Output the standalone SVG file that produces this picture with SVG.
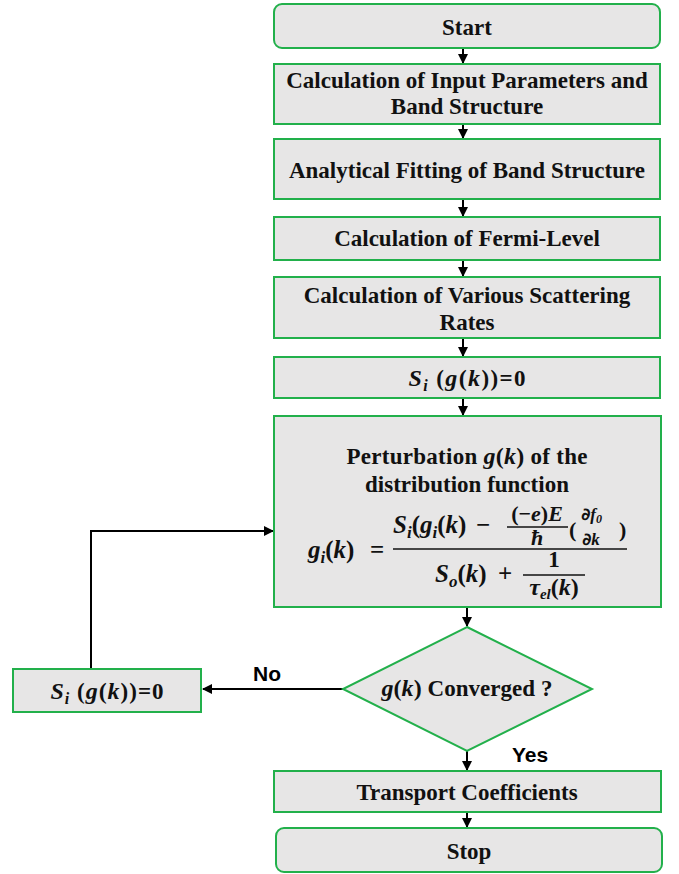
<svg xmlns="http://www.w3.org/2000/svg" width="679" height="874" viewBox="0 0 679 874">
<defs>
<style>
.box{fill:#e7e6e6;stroke:#22b04b;stroke-width:2}
.t{font-family:"Liberation Serif","Times New Roman",serif;font-weight:bold;font-size:23px;fill:#111;text-anchor:middle}
.m{font-family:"Liberation Serif","Times New Roman",serif;font-weight:bold;font-style:italic;fill:#111}
.u{font-style:normal}
.d{font-family:"DejaVu Sans",sans-serif;font-style:normal;font-weight:bold}
.mid{text-anchor:middle}
.lbl{font-family:"Liberation Sans",Arial,sans-serif;font-weight:bold;font-size:21px;fill:#000}
.c{stroke:#000;stroke-width:2;fill:none}
.fl{stroke:#111;stroke-width:1.5}
</style>
<marker id="ah" viewBox="0 0 10 10" refX="9" refY="5" markerWidth="5" markerHeight="5" orient="auto" markerUnits="strokeWidth">
<path d="M0,0 L10,5 L0,10 z" fill="#000"/>
</marker>
</defs>
<rect width="679" height="874" fill="#fff"/>

<g id="connectors">
<line class="c" x1="463" y1="48" x2="463" y2="63" marker-end="url(#ah)"/>
<line class="c" x1="463" y1="124" x2="463" y2="138" marker-end="url(#ah)"/>
<line class="c" x1="463" y1="199" x2="463" y2="216" marker-end="url(#ah)"/>
<line class="c" x1="463" y1="260" x2="463" y2="276" marker-end="url(#ah)"/>
<line class="c" x1="463" y1="338" x2="463" y2="356" marker-end="url(#ah)"/>
<line class="c" x1="463" y1="398" x2="463" y2="415" marker-end="url(#ah)"/>
<line class="c" x1="467" y1="607" x2="467" y2="626" marker-end="url(#ah)"/>
<line class="c" x1="467" y1="751" x2="467" y2="770" marker-end="url(#ah)"/>
<line class="c" x1="467" y1="812" x2="467" y2="827" marker-end="url(#ah)"/>
<line class="c" x1="343" y1="689" x2="203" y2="689" marker-end="url(#ah)"/>
<polyline class="c" points="91,669 91,531 273,531" marker-end="url(#ah)"/>
<text class="lbl" x="253" y="681">No</text>
<text class="lbl" x="512" y="762">Yes</text>
</g>

<g id="start">
<rect class="box" x="274" y="4" width="386" height="44" rx="8"/>
<text class="t" x="467" y="35">Start</text>
</g>

<g id="input">
<rect class="box" x="274" y="64" width="386" height="60"/>
<text class="t" x="467" y="88">Calculation of Input Parameters and</text>
<text class="t" x="467" y="114">Band Structure</text>
</g>

<g id="fitting">
<rect class="box" x="274" y="139" width="386" height="60"/>
<text class="t" x="467" y="178">Analytical Fitting of Band Structure</text>
</g>

<g id="fermi">
<rect class="box" x="274" y="217" width="386" height="43"/>
<text class="t" x="467" y="246">Calculation of Fermi-Level</text>
</g>

<g id="scattering">
<rect class="box" x="274" y="277" width="386" height="61"/>
<text class="t" x="467" y="303">Calculation of Various Scattering</text>
<text class="t" x="467" y="330">Rates</text>
</g>

<g id="init">
<rect class="box" x="274" y="357" width="386" height="41"/>
<text class="m mid" x="467" y="386" font-size="24" textLength="117" lengthAdjust="spacing">S<tspan font-size="16" dy="5">i</tspan><tspan class="u" dy="-5" font-size="23"> (</tspan>g<tspan class="u">(</tspan>k<tspan class="u" font-size="23">))=0</tspan></text>
</g>

<g id="perturbation">
<rect class="box" x="274" y="416" width="387" height="191"/>
<text class="t" x="467" y="464" textLength="241" lengthAdjust="spacing">Perturbation <tspan class="m" font-size="24">g</tspan><tspan font-size="24">(</tspan><tspan class="m" font-size="24">k</tspan><tspan font-size="24">)</tspan> of the</text>
<text class="t" x="467" y="492">distribution function</text>
<text class="m" x="308" y="558" font-size="25">g<tspan font-size="17" dy="5">i</tspan><tspan class="u" dy="-5">(</tspan>k<tspan class="u">)</tspan></text>
<text class="m u" x="370" y="558" font-size="25">=</text>
<line class="fl" x1="393" y1="549" x2="627" y2="549"/>
<text class="m" x="393" y="533" font-size="25">S<tspan font-size="17" dy="5">i</tspan><tspan class="u" dy="-5">(</tspan>g<tspan font-size="17" dy="5">i</tspan><tspan class="u" dy="-5">(</tspan>k<tspan class="u">)</tspan></text>
<text class="m u" x="476" y="533" font-size="25">−</text>
<text class="m mid" x="537" y="521" font-size="22"><tspan class="u">(−</tspan>e<tspan class="u">)</tspan>E</text>
<line class="fl" x1="507" y1="527" x2="568" y2="527"/>
<text class="m mid" x="537" y="545" font-size="22">ħ</text>
<text class="m u" x="569" y="537" font-size="22">(</text>
<text class="m" x="581" y="520" font-size="17"><tspan class="d">∂</tspan>f<tspan font-size="12" dy="3">0</tspan></text>
<text class="m" x="582" y="545" font-size="17"><tspan class="d">∂</tspan>k</text>
<text class="m u" x="619" y="537" font-size="22">)</text>
<text class="m" x="435" y="582" font-size="25">S<tspan font-size="17" dy="5">o</tspan><tspan class="u" dy="-5">(</tspan>k<tspan class="u">)</tspan></text>
<text class="m u" x="498" y="582" font-size="25">+</text>
<text class="m mid" x="554" y="567" font-size="23"><tspan class="u">1</tspan></text>
<line class="fl" x1="523" y1="575" x2="585" y2="575"/>
<text class="m mid" x="554" y="595" font-size="24">τ<tspan font-size="15" dy="4">el</tspan><tspan class="u" dy="-4">(</tspan>k<tspan class="u">)</tspan></text>
</g>

<g id="converged">
<polygon class="box" points="467,627 592,689 467,751 343,689"/>
<text class="t" x="467" y="696" textLength="171" lengthAdjust="spacing"><tspan class="m" font-size="24">g</tspan><tspan font-size="24">(</tspan><tspan class="m" font-size="24">k</tspan><tspan font-size="24">)</tspan> Converged ?</text>
</g>

<g id="reset">
<rect class="box" x="13" y="669" width="188" height="43"/>
<text class="m mid" x="107" y="699" font-size="24" textLength="113" lengthAdjust="spacing">S<tspan font-size="16" dy="5">i</tspan><tspan class="u" dy="-5" font-size="23"> (</tspan>g<tspan class="u">(</tspan>k<tspan class="u" font-size="23">))=0</tspan></text>
</g>

<g id="transport">
<rect class="box" x="274" y="771" width="387" height="41"/>
<text class="t" x="467" y="800">Transport Coefficients</text>
</g>

<g id="stop">
<rect class="box" x="276" y="828" width="386" height="44" rx="8"/>
<text class="t" x="469" y="859">Stop</text>
</g>
</svg>
